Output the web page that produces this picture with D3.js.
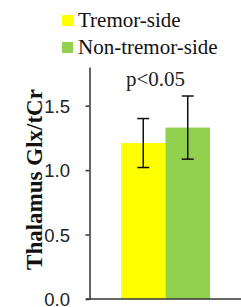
<!DOCTYPE html>
<html>
<head>
<meta charset="utf-8">
<script src="https://cdn.jsdelivr.net/npm/d3@7"></script>
<style>
  body { margin: 0; background: #fff; }
</style>
</head>
<body>
<div id="canvas"></div>
<script>
const categories = ["Tremor-side", "Non-tremor-side"];
const means = [1.21, 1.33];
const errors = [0.19, 0.245];
const colors = ["#FFFF00", "#92D050"];
const yTicks = [0.0, 0.5, 1.0, 1.5];

const svg = d3.select("#canvas").append("svg")
    .attr("width", 241)
    .attr("height", 307);

const y = d3.scaleLinear()
    .domain([0, 1.8])
    .range([299, 67]);

const x = d3.scaleBand()
    .domain(categories)
    .range([121, 210])
    .padding(0);

// bars
svg.selectAll("rect.bar")
    .data(categories)
    .enter().append("rect")
    .attr("class", "bar")
    .attr("x", d => x(d))
    .attr("width", x.bandwidth())
    .attr("y", (d, i) => y(means[i]))
    .attr("height", (d, i) => y(0) - y(means[i]))
    .attr("fill", (d, i) => colors[i]);

// error bars
const err = svg.selectAll("g.err")
    .data(categories)
    .enter().append("g")
    .attr("class", "err")
    .attr("stroke", "#111")
    .attr("stroke-width", 1.5);
err.append("line")
    .attr("x1", d => x(d) + x.bandwidth() / 2)
    .attr("x2", d => x(d) + x.bandwidth() / 2)
    .attr("y1", (d, i) => y(means[i] + errors[i]))
    .attr("y2", (d, i) => y(means[i] - errors[i]));
err.append("line")
    .attr("x1", d => x(d) + x.bandwidth() / 2 - 6)
    .attr("x2", d => x(d) + x.bandwidth() / 2 + 6)
    .attr("y1", (d, i) => y(means[i] + errors[i]))
    .attr("y2", (d, i) => y(means[i] + errors[i]));
err.append("line")
    .attr("x1", d => x(d) + x.bandwidth() / 2 - 6)
    .attr("x2", d => x(d) + x.bandwidth() / 2 + 6)
    .attr("y1", (d, i) => y(means[i] - errors[i]))
    .attr("y2", (d, i) => y(means[i] - errors[i]));

// y axis
const yAxis = d3.axisLeft(y)
    .tickValues(yTicks)
    .tickFormat(d3.format(".1f"))
    .tickSize(4)
    .tickSizeOuter(0);
const yAxisGroup = svg.append("g")
    .attr("transform", "translate(89.5,0)")
    .call(yAxis);
yAxisGroup.select(".domain").attr("stroke", "#333").attr("stroke-width", 1.5);
yAxisGroup.selectAll(".tick line").attr("stroke", "#333").attr("stroke-width", 1.5);
yAxisGroup.selectAll(".tick text")
    .attr("x", -19.5)
    .attr("dy", "0.36em")
    .attr("fill", "#222")
    .style("font-family", "Liberation Sans, Arial, sans-serif")
    .style("font-size", "18.5px");

// x baseline
svg.append("line")
    .attr("x1", 86).attr("x2", 241)
    .attr("y1", y(0)).attr("y2", y(0))
    .attr("stroke", "#333")
    .attr("stroke-width", 1.5);

// y label
svg.append("text")
    .attr("transform", "translate(42,179.5) rotate(-90)")
    .attr("text-anchor", "middle")
    .style("font-family", "Liberation Serif, Times New Roman, serif")
    .style("font-weight", "bold")
    .style("font-size", "23px")
    .attr("fill", "#111")
    .text("Thalamus Glx/tCr");

// significance
svg.append("text")
    .attr("x", 155.5).attr("y", 86)
    .attr("text-anchor", "middle")
    .style("font-family", "Liberation Serif, Times New Roman, serif")
    .style("font-size", "21px")
    .attr("fill", "#222")
    .text("p<0.05");

// legend
const legend = svg.selectAll("g.legend")
    .data(categories)
    .enter().append("g")
    .attr("class", "legend")
    .attr("transform", (d, i) => `translate(62,${15 + i * 27})`);
legend.append("rect")
    .attr("width", 11).attr("height", 11)
    .attr("fill", (d, i) => colors[i]);
legend.append("text")
    .attr("x", 16).attr("y", 12)
    .style("font-family", "Liberation Serif, Times New Roman, serif")
    .style("font-size", "21px")
    .attr("fill", "#111")
    .text(d => d);
</script>
</body>
</html>
